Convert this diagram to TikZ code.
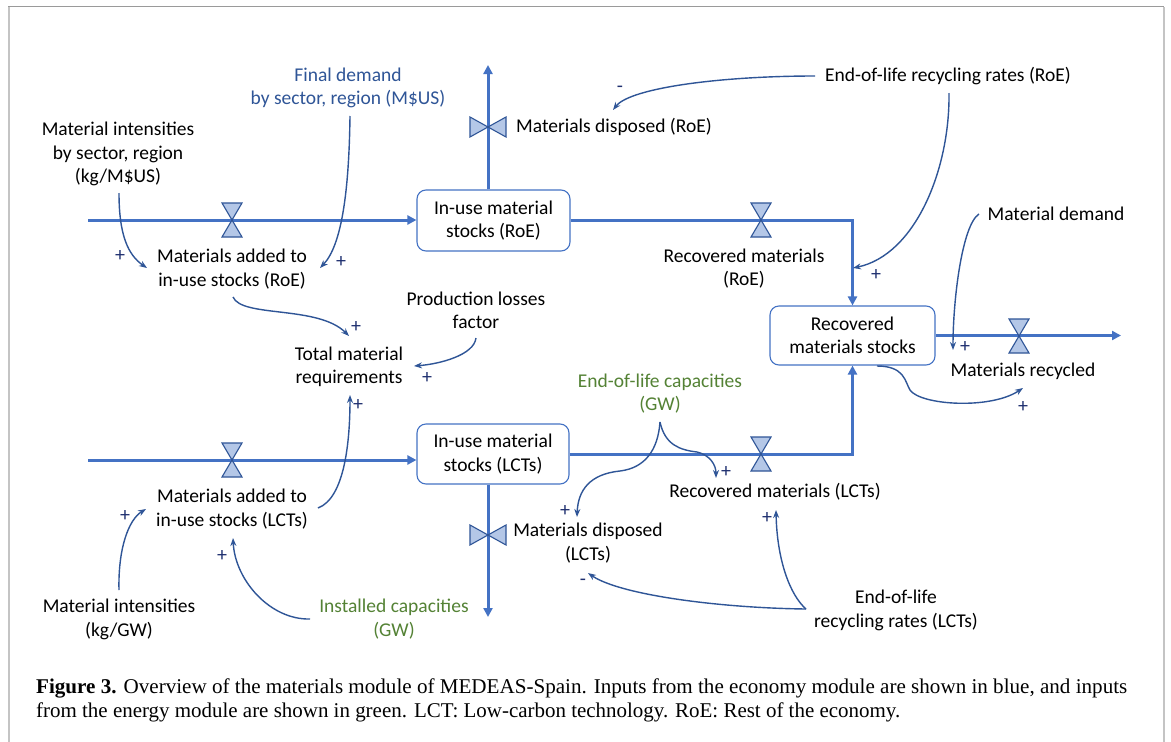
\documentclass[tikz,border=0pt]{standalone}
\usepackage{fontspec}
\usepackage{graphicx}
\setmainfont{Carlito}
\newfontfamily\capfont{Liberation Serif}
\usetikzlibrary{arrows.meta}
\definecolor{flowblue}{HTML}{4472C4}
\definecolor{valvefill}{HTML}{B4C7E7}
\definecolor{valvedraw}{HTML}{2F5597}
\definecolor{cblue}{HTML}{2F5597}
\definecolor{tblue}{HTML}{2F5597}
\definecolor{tgreen}{HTML}{548235}
\definecolor{pcol}{HTML}{1F3070}
\definecolor{frameA}{HTML}{9A9A9A}
\definecolor{frameB}{HTML}{C4C4C4}
\tikzset{
  txt/.style={align=center, inner sep=0pt},
  stockbox/.style={draw=flowblue, line width=1.1pt, rounded corners=9pt, fill=white, align=center, inner sep=0pt},
  flow/.style={draw=flowblue, line width=3pt, -{Triangle[length=9pt,width=9pt]}},
  causal/.style={draw=cblue, line width=1.4pt, -{Stealth[length=8pt,width=6pt]}},
  pm/.style={text=pcol, inner sep=0pt, font=\fontsize{20}{20}\selectfont},
  vvalve/.pic={\draw[fill=valvefill, draw=valvedraw, line width=1.1pt, line join=miter] (-10,-17) -- (10,-17) -- (-10,17) -- (10,17) -- cycle;},
  hvalve/.pic={\draw[fill=valvefill, draw=valvedraw, line width=1.1pt, line join=miter] (-18,-10) -- (-18,10) -- (18,-10) -- (18,10) -- cycle;}
}
\begin{document}
\begin{tikzpicture}[x=1pt,y=-1pt,font=\fontsize{19.5}{23.5}\selectfont]
\useasboundingbox (0,0) rectangle (1171,742);
\fill[white] (0,0) rectangle (1171,742);
% frame
\draw[frameB, line width=2pt] (8.5,742) -- (8.5,7);
\draw[frameB, line width=2pt] (1163.5,742) -- (1163.5,7);
\draw[frameA, line width=1.5pt] (8,6.5) -- (1164,6.5);

% stocks
\node[stockbox, minimum width=153pt, minimum height=61pt] (isroe) at (493.5,220.5) {In-use material\\stocks (RoE)};
\node[stockbox, minimum width=152pt, minimum height=60pt] (islct) at (493,454) {In-use material\\stocks (LCTs)};
\node[stockbox, minimum width=165pt, minimum height=59pt] (rms) at (852.5,335.5) {Recovered\\materials stocks};

% text nodes
\node[txt] (mirs) at (118,154) {Material intensities\\by sector, region\\(kg/M\$US)};
\node[txt, text=tblue] (fd) at (348,88) {Final demand\\by sector, region (M\$US)};
\node[txt] (maroe) at (232,269) {Materials added to\\in-use stocks (RoE)};
\node[txt, anchor=west] (mdroe) at (516,127) {Materials disposed (RoE)};
\node[txt] (eolroe) at (948,76) {End-of-life recycling rates (RoE)};
\node[txt] (rmroe) at (744,268.5) {Recovered materials\\(RoE)};
\node[txt] (md) at (1056,214) {Material demand};
\node[txt] (mrec) at (1023,371) {Materials recycled};
\node[txt] (plf) at (476,310.5) {Production losses\\factor};
\node[txt] (tmr) at (349,367) {Total material\\requirements};
\node[txt, text=tgreen] (eolc) at (660,393.5) {End-of-life capacities\\(GW)};
\node[txt] (rmlct) at (775,492) {Recovered materials (LCTs)};
\node[txt] (malct) at (232,509) {Materials added to\\in-use stocks (LCTs)};
\node[txt] (mdlct) at (588,543) {Materials disposed\\(LCTs)};
\node[txt] (milct) at (119,619.5) {Material intensities\\(kg/GW)};
\node[txt, text=tgreen] (ic) at (394,619) {Installed capacities\\(GW)};
\node[txt] (eollct) at (896,610.5) {End-of-life\\recycling rates (LCTs)};

% flow coordinates
\coordinate (src1) at (88,220);
\coordinate (src2) at (88,460);
\coordinate (up) at (488,65);
\coordinate (dn) at (488,617);
\coordinate (sink) at (1121,335.5);

% flows
\draw[flow] (src1) -- (src1 -| isroe.west);
\draw[flow] (up |- isroe.north) -- (up);
\draw[flow] (isroe.east |- src1) -| (rms.north);
\draw[flow] (src2) -- (src2 -| islct.west);
\draw[flow] (dn |- islct.south) -- (dn);
\draw[flow] (islct.east) -| (rms.south);
\draw[flow] (rms.east) -- (sink);

% valves
\pic at (232,220) {vvalve};
\pic at (488,127) {hvalve};
\pic at (761,220) {vvalve};
\pic at (1019,336) {vvalve};
\pic at (232,460) {vvalve};
\pic at (488,535) {hvalve};
\pic at (761,454) {vvalve};

% causal link end points
\coordinate (c1s) at (119,193);   \coordinate (c1e) at (147,268);
\coordinate (c2s) at (350,116);   \coordinate (c2e) at (320,268);
\coordinate (c3s) at (233,297);   \coordinate (c3e) at (349,336);
\coordinate (c4s) at (476,338);   \coordinate (c4e) at (414,366);
\coordinate (c5s) at (318,508);   \coordinate (c5e) at (350,395);
\coordinate (c6s) at (119,590);   \coordinate (c6e) at (146,509);
\coordinate (c7s) at (310,619);   \coordinate (c7e) at (233,538);
\coordinate (c8s) at (815,76);    \coordinate (c8e) at (613,110);
\coordinate (c9s) at (949,93);    \coordinate (c9e) at (853,268);
\coordinate (c10s) at (979,214);  \coordinate (c10e) at (953,350);
\coordinate (c11s) at (877,366);  \coordinate (c11e) at (1023,388);
\coordinate (c12s) at (660,422);  \coordinate (c12e) at (577,517);
\coordinate (c13e) at (716,478);
\coordinate (c14s) at (806,609);  \coordinate (c14e) at (588,573);
\coordinate (c15e) at (776,510);

\draw[causal] (c1s) .. controls (119,235) and (128,255) .. (c1e);
\draw[causal] (c2s) .. controls (349,190) and (342,245) .. (c2e);
\draw[causal] (c3s) .. controls (242,318) and (318,305) .. (c3e);
\draw[causal] (c4s) .. controls (474,355) and (440,364) .. (c4e);
\draw[causal] (c5s) .. controls (345,498) and (350,440) .. (c5e);
\draw[causal] (c6s) .. controls (118,550) and (128,520) .. (c6e);
\draw[causal] (c7s) .. controls (270,620) and (235,580) .. (c7e);
\draw[causal] (c8s) .. controls (720,76) and (630,88) .. (c8e);
\draw[causal] (c9s) .. controls (950,170) and (915,255) .. (c9e);
\draw[causal] (c10s) .. controls (962,225) and (953,300) .. (c10e);
\draw[causal] (c11s) .. controls (905,366) and (905,382) .. (910,390) .. controls (920,405) and (990,410) .. (c11e);
\draw[causal] (c12s) .. controls (658,450) and (645,468) .. (620,471) .. controls (590,474) and (578,490) .. (c12e);
\draw[causal] (c12s) .. controls (665,445) and (680,450) .. (697,452) .. controls (710,455) and (716,465) .. (c13e);
\draw[causal] (c14s) .. controls (720,608) and (620,595) .. (c14e);
\draw[causal] (c14s) .. controls (790,595) and (777,560) .. (c15e);

% polarity signs
\node[pm] (p1) at (120,256) {+};
\node[pm] (p2) at (341,262) {+};
\node[pm] (p3) at (356,327) {+};
\node[pm] (p4) at (427,378) {+};
\node[pm] (p5) at (358,405) {+};
\node[pm] (p6) at (125,516) {+};
\node[pm] (p7) at (222,556) {+};
\node[pm] (p8) at (620,89) {-};
\node[pm] (p9) at (876,275) {+};
\node[pm] (p10) at (965,347) {+};
\node[pm] (p11) at (1023,407) {+};
\node[pm] (p12) at (565,511) {+};
\node[pm] (p13) at (726,472) {+};
\node[pm] (p14) at (583,582) {-};
\node[pm] (p15) at (767,518) {+};

% caption
\node[anchor=base west, inner sep=0pt, font=\capfont\fontsize{21}{24}\selectfont] (cap1) at (36,693)
  {\resizebox{1091pt}{\height}{\textbf{Figure 3.} Overview of the materials module of MEDEAS-Spain. Inputs from the economy module are shown in blue, and inputs}};
\node[anchor=base west, inner sep=0pt, font=\capfont\fontsize{21}{24}\selectfont] (cap2) at (36,717)
  {\resizebox{864pt}{\height}{from the energy module are shown in green. LCT: Low-carbon technology. RoE: Rest of the economy.}};
\end{tikzpicture}
\end{document}
